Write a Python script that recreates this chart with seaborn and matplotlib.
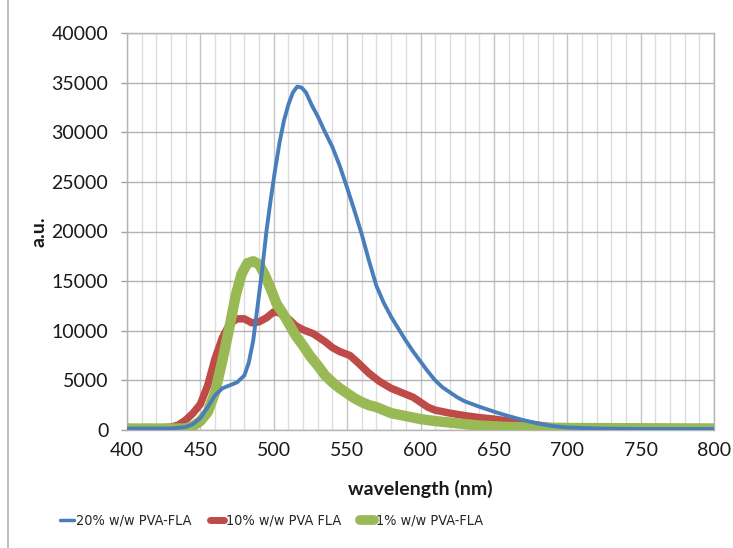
import matplotlib
matplotlib.use("Agg")
import matplotlib.pyplot as plt
import seaborn as sns
import pandas as pd
from matplotlib.lines import Line2D
from matplotlib.font_manager import FontProperties

# ---- data ----
wl_20 = [400, 420, 430, 440, 445, 450, 455, 460, 465, 470, 475, 480, 483, 486, 489, 492, 495, 498,
         501, 504, 507, 510, 513, 516, 519, 522, 526, 530, 535, 540, 545, 550, 555, 560, 565, 570,
         575, 580, 585, 590, 595, 600, 605, 610, 615, 620, 625, 630, 640, 650, 660, 670, 680, 690,
         700, 720, 750, 800]
au_20 = [150, 150, 150, 300, 600, 1200, 2300, 3500, 4200, 4500, 4800, 5500, 6800, 9000, 12500,
         16000, 20000, 23300, 26300, 29000, 31200, 32800, 34000, 34600, 34500, 34000, 32700, 31600,
         30000, 28500, 26600, 24400, 22100, 19700, 17000, 14500, 12800, 11400, 10200, 9000, 7900,
         6900, 5900, 5000, 4300, 3800, 3300, 2900, 2350, 1850, 1400, 1000, 650, 400, 250, 150, 100, 100]

wl_10 = [400, 420, 430, 435, 440, 445, 450, 455, 460, 465, 470, 475, 480, 485, 490, 495, 500, 504,
         510, 515, 520, 527, 535, 540, 545, 552, 558, 565, 572, 580, 590, 595, 600, 605, 610, 620,
         630, 640, 650, 660, 670, 680, 690, 700, 750, 800]
au_10 = [150, 150, 300, 500, 1000, 1700, 2600, 4500, 7200, 9300, 10700, 11200, 11200, 10800, 10900,
         11300, 11900, 11800, 11200, 10500, 10100, 9700, 8900, 8300, 7900, 7500, 6700, 5700, 4900,
         4200, 3600, 3300, 2800, 2300, 2000, 1700, 1450, 1250, 1100, 900, 700, 500, 300, 200, 120, 100]

wl_1 = [400, 420, 440, 445, 450, 455, 460, 465, 470, 474, 478, 482, 486, 490, 494, 498, 502, 506,
        510, 515, 520, 525, 530, 535, 540, 545, 550, 555, 560, 565, 570, 575, 580, 590, 600, 610,
        620, 630, 640, 660, 700, 800]
au_1 = [150, 150, 150, 400, 900, 1800, 3800, 7000, 10500, 13500, 15700, 16800, 17000, 16700, 15600,
        14200, 12700, 11800, 10800, 9500, 8500, 7400, 6500, 5500, 4800, 4200, 3700, 3200, 2800, 2500,
        2300, 2000, 1700, 1400, 1100, 900, 750, 600, 450, 300, 200, 150]

labels = ["20% w/w PVA-FLA", "10% w/w PVA FLA", "1% w/w PVA-FLA"]
x_ticks = [400, 450, 500, 550, 600, 650, 700, 750, 800]
y_ticks = [0, 5000, 10000, 15000, 20000, 25000, 30000, 35000, 40000]

c_blue, c_red, c_green = "#4a7ebb", "#be4b48", "#98b954"

sns.set_style("white")
plt.rcParams["font.family"] = ["Lato", "DejaVu Sans"]

fig = plt.figure(figsize=(7.33, 5.48), dpi=100)
ax = fig.add_axes([127/733, 118/548, 587/733, 397/548])

df20 = pd.DataFrame({"wl": wl_20, "au": au_20})
df10 = pd.DataFrame({"wl": wl_10, "au": au_10})
df1 = pd.DataFrame({"wl": wl_1, "au": au_1})

sns.lineplot(data=df10, x="wl", y="au", ax=ax, color=c_red, lw=5.4, zorder=3,
             solid_capstyle="round", solid_joinstyle="round")
sns.lineplot(data=df1, x="wl", y="au", ax=ax, color=c_green, lw=7.5, zorder=4,
             solid_capstyle="round", solid_joinstyle="round")
sns.lineplot(data=df20, x="wl", y="au", ax=ax, color=c_blue, lw=2.8, zorder=5,
             solid_capstyle="round", solid_joinstyle="round")

ax.set_xlim(400, 800)
ax.set_ylim(0, 40000)
ax.set_xticks(x_ticks)
ax.set_xticks(range(400, 801, 10), minor=True)
ax.set_yticks(y_ticks)
ax.set_xticklabels([str(v) for v in x_ticks])
ax.set_yticklabels([str(v) for v in y_ticks])

ax.grid(True, which="major", axis="y", color="#b3b3b3", lw=1.0, zorder=0)
ax.grid(True, which="minor", axis="x", color="#dcdcdc", lw=1.0, zorder=0)
ax.grid(True, which="major", axis="x", color="#c4c4c4", lw=1.0, zorder=0)
ax.set_axisbelow(True)

for s in ax.spines.values():
    s.set_color("#b3b3b3")
    s.set_linewidth(1.0)

ax.tick_params(axis="y", which="major", length=4.5, width=1, color="#a0a0a0",
               labelsize=14, pad=9, direction="out", left=True)
ax.tick_params(axis="x", which="both", length=0, labelsize=14, pad=9)
for t in ax.get_xticklabels() + ax.get_yticklabels():
    t.set_color("#1a1a1a")

ax.set_xlabel("wavelength (nm)", fontsize=14, fontweight="bold", labelpad=15, color="#1a1a1a")
ax.set_ylabel("a.u.", fontsize=14, fontweight="bold", labelpad=3, color="#1a1a1a")

handles = [Line2D([], [], color=c_blue, lw=2.5),
           Line2D([], [], color=c_red, lw=5),
           Line2D([], [], color=c_green, lw=7, solid_capstyle="round")]
leg_font = FontProperties(family=["DejaVu Sans"], stretch="condensed", size=10.4)
fig.legend(handles, labels, loc="center left", bbox_to_anchor=(47/733, 1 - 521/548), ncol=3,
           frameon=False, prop=leg_font,
           handlelength=0.95, handletextpad=0.15, columnspacing=1.3)

fig.add_artist(Line2D([8/733, 8/733], [0, 1], color="#b0b0b0", lw=1.2, transform=fig.transFigure))

fig.savefig("out.png", dpi=100)
